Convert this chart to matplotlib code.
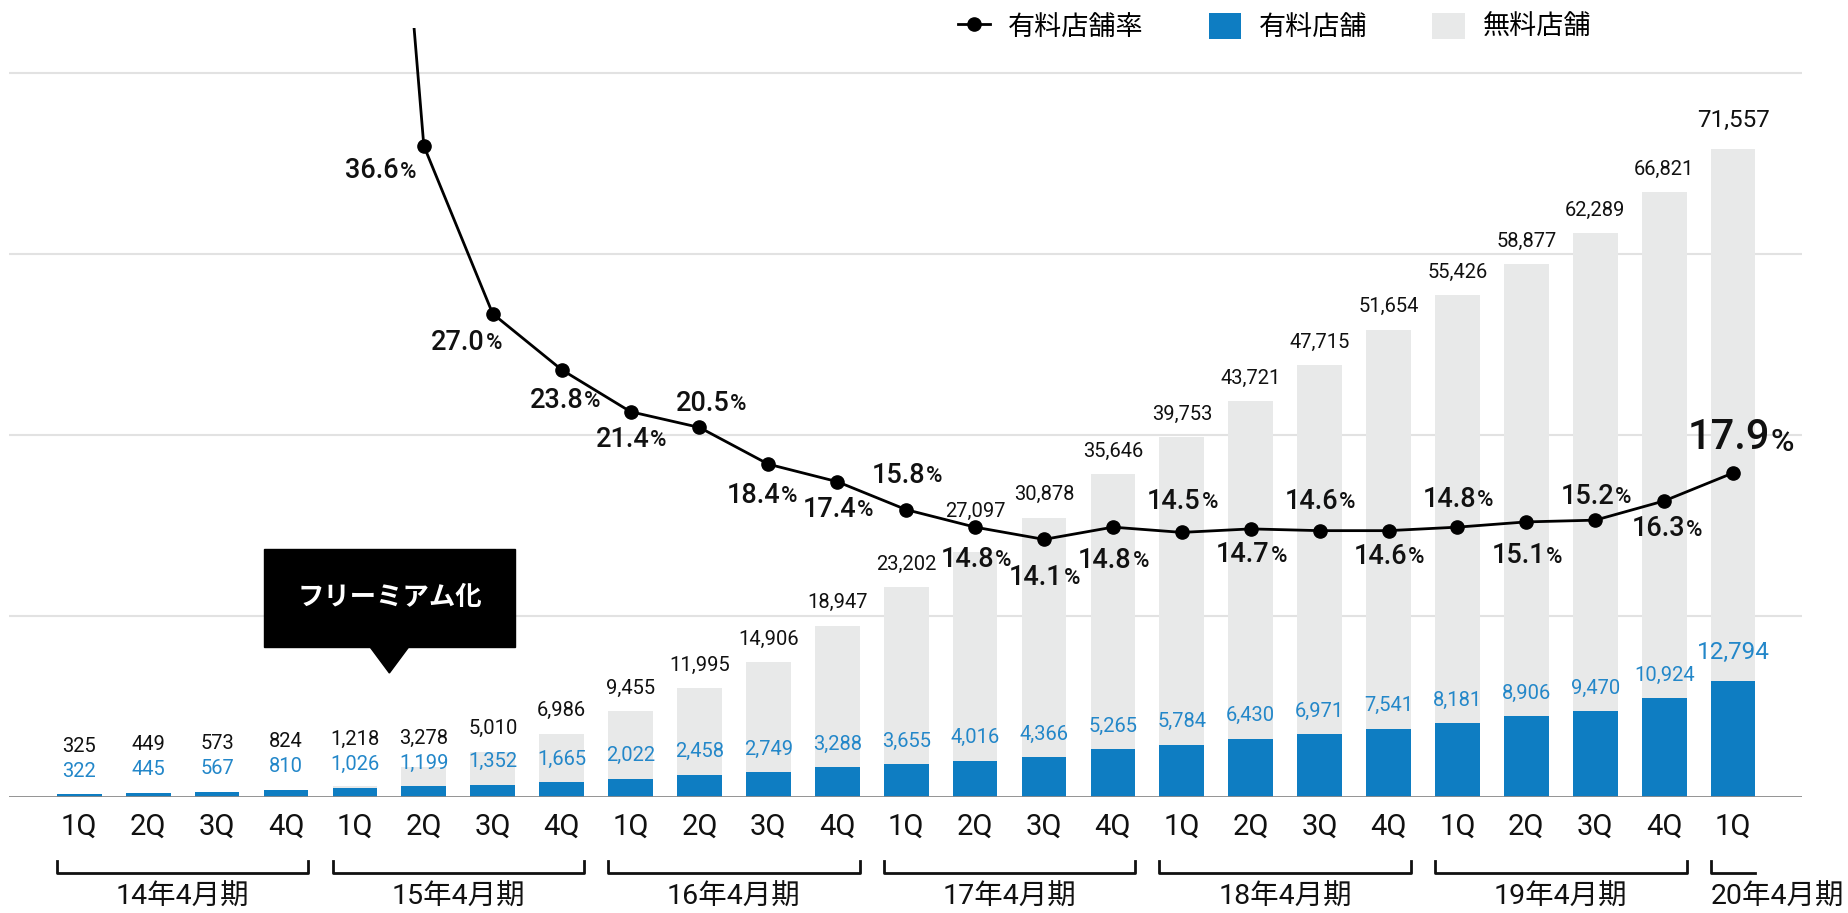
import matplotlib.pyplot as plt
import numpy as np
from matplotlib.lines import Line2D
from matplotlib.patches import Patch, Rectangle, Polygon

plt.rcParams['font.family'] = ['Roboto', 'Noto Sans CJK JP']

# data
quarters = ['1Q', '2Q', '3Q', '4Q'] * 6 + ['1Q']
years = ['14年4月期', '15年4月期', '16年4月期', '17年4月期', '18年4月期', '19年4月期', '20年4月期']
year_sizes = [4, 4, 4, 4, 4, 4, 1]
total_stores = [325, 449, 573, 824, 1218, 3278, 5010, 6986, 9455, 11995, 14906, 18947,
                23202, 27097, 30878, 35646, 39753, 43721, 47715, 51654, 55426, 58877,
                62289, 66821, 71557]
paid_stores = [322, 445, 567, 810, 1026, 1199, 1352, 1665, 2022, 2458, 2749, 3288,
               3655, 4016, 4366, 5265, 5784, 6430, 6971, 7541, 8181, 8906, 9470,
               10924, 12794]
paid_rate = [np.nan, np.nan, np.nan, np.nan, 84.2, 36.6, 27.0, 23.8, 21.4, 20.5, 18.4,
             17.4, 15.8, 14.8, 14.1, 14.8, 14.5, 14.7, 14.6, 14.6, 14.8, 15.1, 15.2,
             16.3, 17.9]
labeled_from = 5

# label placement for the rate labels (dx, dy in pixels, dy > 0 means below)
rate_label_offsets = [(-44, 25), (-27, 29), (3, 31), (0, 28), (11, -24), (-7, 31), (0, 28),
                      (0, -34), (0, 32), (0, 38), (0, 33), (0, -31), (0, 26), (0, -29),
                      (0, 26), (0, -28), (0, 34), (0, -24), (2, 28), (7, -35)]
# extra lift (px) for total labels that would sit on the line
total_label_lift = {13: 17}

BLUE = '#0e7dc2'
BLUE_TXT = '#2387c9'
GRAY = '#e8e9e9'
INK = '#111111'

W, H = 1849, 913
fig = plt.figure(figsize=(W / 100, H / 100), dpi=100)
top_px, base_px, left_px, right_px = 28, 797, 9, 1802
ax = fig.add_axes([left_px / W, (H - base_px) / H, (right_px - left_px) / W, (base_px - top_px) / H])
ax_h = base_px - top_px
per_px = 20000 / 181.0
ax.set_xlim(-1.02, 25.0)
ax.set_ylim(0, ax_h * per_px)

x = np.arange(len(total_stores))
bw = 0.65
ax.bar(x, total_stores, width=bw, color=GRAY, zorder=1)
ax.bar(x, paid_stores, width=bw, color=BLUE, zorder=1.5)

ax.set_axisbelow(True)
ax.set_yticks([20000, 40000, 60000, 80000])
ax.yaxis.grid(True, color='#e2e2e2', lw=1.5)
ax.tick_params(axis='y', length=0, labelleft=False)
ax.axhline(0, color='#8a8a8a', lw=2, zorder=3)
for s in ax.spines.values():
    s.set_visible(False)
ax.set_xticks(x)
ax.set_xticklabels(quarters, fontsize=21, color=INK)
ax.tick_params(axis='x', length=0, pad=11)

# bar value labels
for i in x:
    big = i == len(x) - 1
    fs = 17.5 if big else 14.5
    off = (29 if big else 23) * per_px
    yb = paid_stores[i] + off
    yt = max(total_stores[i] + off + total_label_lift.get(i, 0) * per_px, yb + 25 * per_px)
    ax.text(i, yb, f'{paid_stores[i]:,}', ha='center', va='center', fontsize=fs, color=BLUE_TXT)
    ax.text(i, yt, f'{total_stores[i]:,}', ha='center', va='center', fontsize=fs, color=INK)

# rate line
ax2 = ax.twinx()
ax2.set_ylim(-11 / 17.49, (base_px - 11 - top_px) / 17.49)
ax2.plot(x, paid_rate, color='black', lw=2, zorder=3)
ax2.plot(x[labeled_from:], paid_rate[labeled_from:], 'o', color='black', ms=9.5, zorder=4)
ax2.axis('off')
k = 100 / 72.0
for j, i in enumerate(range(labeled_from, len(x))):
    big = i == len(x) - 1
    fs_n, fs_p = (30, 23) if big else (19.5, 16)
    dx, dy = rate_label_offsets[j]
    shift = 0.36 * fs_p
    t = ax2.annotate(f'{paid_rate[i]:.1f}', xy=(i, paid_rate[i]), xytext=(dx / k - shift, -dy / k),
                     textcoords='offset points', ha='center', va='center', fontsize=fs_n,
                     weight='medium', color=INK, zorder=5)
    ax2.annotate('%', xy=(1, 0), xycoords=t, xytext=(0.6, 1.3), textcoords='offset points',
                 ha='left', va='bottom', fontsize=fs_p, weight='medium', color=INK, zorder=5)

# callout
cx = 4.5
box_bottom, box_top = (base_px - 647) * per_px, (base_px - 549) * per_px
ax.add_patch(Rectangle((cx - 1.82, box_bottom), 3.64, box_top - box_bottom, color='black', zorder=6))
ax.add_patch(Polygon([(cx - 0.28, box_bottom), (cx + 0.28, box_bottom), (cx, (base_px - 673) * per_px)],
                     color='black', zorder=6))
ax.text(cx, (box_bottom + box_top) / 2, 'フリーミアム化', color='white', fontsize=19,
        weight='bold', ha='center', va='center', zorder=7)

# year brackets
trans = ax.get_xaxis_transform()
def ay(px):
    return (base_px - px) / ax_h

start = 0
for name, n in zip(years, year_sizes):
    x0, x1 = start - bw / 2, start + n - 1 + bw / 2
    if n > 1:
        ax.plot([x0, x0, x1, x1], [ay(861), ay(873), ay(873), ay(861)], transform=trans,
                clip_on=False, color=INK, lw=2)
        ax.text((x0 + x1) / 2, ay(897), name, transform=trans, ha='center', va='center',
                fontsize=20.5, color=INK)
    else:
        ax.plot([x0, x0, x1], [ay(861), ay(873), ay(873)], transform=trans,
                clip_on=False, color=INK, lw=2)
        ax.text(x0, ay(897), name, transform=trans, ha='left', va='center',
                fontsize=20.5, color=INK)
    start += n

# legend
handles = [Line2D([], [], color='black', lw=2, marker='o', ms=9.5),
           Patch(facecolor=BLUE), Patch(facecolor=GRAY)]
fig.legend(handles, ['有料店舗率', '有料店舗', '無料店舗'], loc='center left',
           bbox_to_anchor=(958 / W, 1 - 27 / H), ncol=3, frameon=False, fontsize=19.5,
           handlelength=1.2, handleheight=1.1, handletextpad=0.65, columnspacing=2.4,
           borderpad=0, borderaxespad=0)

fig.savefig('out.png', dpi=100)
